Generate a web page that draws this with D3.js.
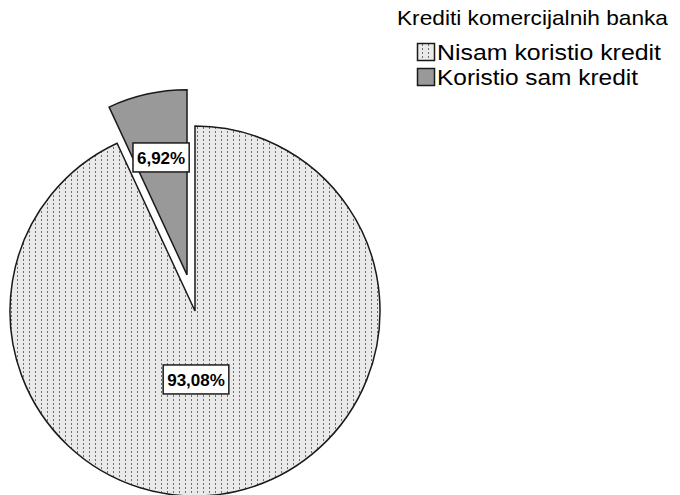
<!DOCTYPE html>
<html>
<head>
<meta charset="utf-8">
<script src="https://cdn.jsdelivr.net/npm/d3@7"></script>
<style>
  body { margin: 0; background: #fff; }
  svg { display: block; font-family: 'Liberation Sans', Arial, sans-serif; }
</style>
</head>
<body>
<svg id="chart" width="680" height="495"></svg>
<script>
// data
const categories = ['Nisam koristio kredit', 'Koristio sam kredit']
const percents = [93.08, 6.92]
const labels = ['93,08%', '6,92%']
const legendTitle = 'Krediti komercijalnih banka'

const svg = d3.select('#chart')
const cx = 195
const cy = 311
const radius = 185
const explode = 37

// dotted pattern for the big slice
const defs = svg.append('defs')
const pat = defs.append('pattern')
  .attr('id', 'dots')
  .attr('patternUnits', 'userSpaceOnUse')
  .attr('width', 6)
  .attr('height', 4)
pat.append('rect').attr('width', 6).attr('height', 4).attr('fill', '#eaeaea')
pat.append('rect').attr('x', 2).attr('y', 0).attr('width', 1).attr('height', 2).attr('fill', '#6e6e6e')

const fills = ['url(#dots)', '#999999']

// small slice sits counter-clockwise from 12 o'clock, big one runs clockwise
const pie = d3.pie()
  .sort(null)
  .value(d => d)
  .startAngle(-2 * Math.PI * percents[1] / 100)
  .endAngle(2 * Math.PI - 2 * Math.PI * percents[1] / 100)

const arcs = pie([percents[1], percents[0]])
const order = [1, 0] // index into categories

const arc = d3.arc().innerRadius(0).outerRadius(radius)

const g = svg.append('g').attr('transform', 'translate(' + cx + ',' + cy + ')')

arcs.forEach((a, i) => {
  const idx = order[i]
  const mid = (a.startAngle + a.endAngle) / 2
  // explode the smaller slice
  const off = idx === 1 ? explode : 0
  const dx = Math.sin(mid) * off
  const dy = -Math.cos(mid) * off
  const sg = g.append('g').attr('transform', 'translate(' + dx + ',' + dy + ')')
  sg.append('path')
    .attr('d', arc(a))
    .attr('fill', fills[idx])
    .attr('stroke', '#1a1a1a')
    .attr('stroke-width', 1.5)
    .attr('stroke-linejoin', 'miter')

  // label position along the slice middle
  const lr = idx === 1 ? radius * 0.65 : radius * 0.37
  const lx = idx === 1 ? Math.sin(mid) * lr : 1
  const ly = idx === 1 ? -Math.cos(mid) * lr : lr
  const lg = sg.append('g').attr('transform', 'translate(' + lx + ',' + ly + ')')
  const txt = lg.append('text')
    .attr('text-anchor', 'middle')
    .attr('dy', '0.36em')
    .attr('font-size', 17)
    .attr('font-weight', 'bold')
    .attr('fill', '#000')
    .text(labels[idx])
  const bb = txt.node().getBBox()
  lg.insert('rect', 'text')
    .attr('x', bb.x - 4)
    .attr('y', -14.5)
    .attr('width', bb.width + 8)
    .attr('height', 29)
    .attr('fill', '#fff')
    .attr('stroke', '#1a1a1a')
    .attr('stroke-width', 1.5)
})

// legend
const legend = svg.append('g')
legend.append('text')
  .attr('x', 397)
  .attr('y', 25)
  .attr('font-size', 21)
  .attr('fill', '#000')
  .attr('textLength', 271)
  .attr('lengthAdjust', 'spacingAndGlyphs')
  .text(legendTitle)

const itemWidths = [224, 201]
categories.forEach((c, i) => {
  const y = 43 + i * 25
  legend.append('rect')
    .attr('x', 417.5)
    .attr('y', y + 0.5)
    .attr('width', 17)
    .attr('height', 17)
    .attr('fill', fills[i])
    .attr('stroke', '#1a1a1a')
    .attr('stroke-width', 1.5)
  legend.append('text')
    .attr('x', 437)
    .attr('y', y + 17)
    .attr('font-size', 22)
    .attr('fill', '#000')
    .attr('textLength', itemWidths[i])
    .attr('lengthAdjust', 'spacingAndGlyphs')
    .text(c)
})
</script>
</body>
</html>
